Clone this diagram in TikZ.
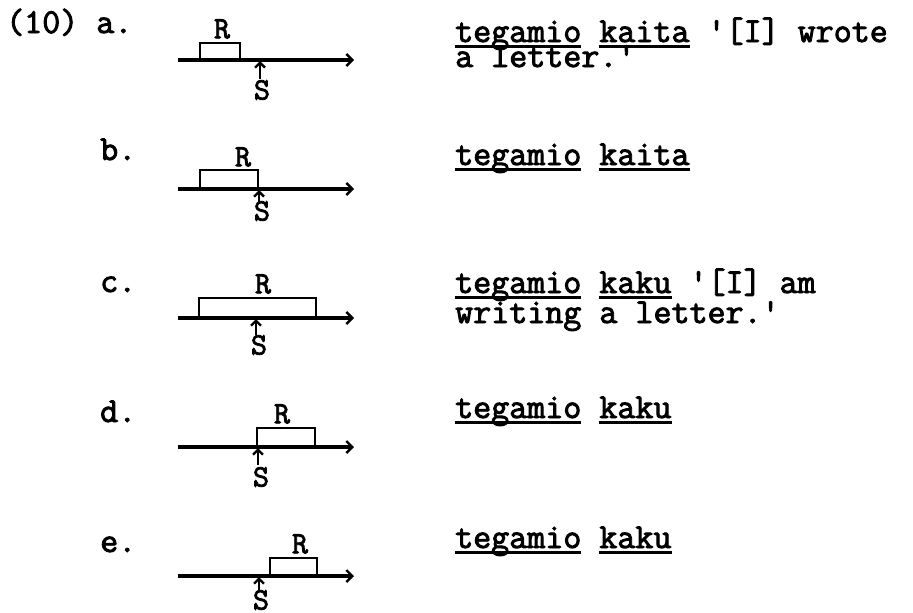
\documentclass[tikz,border=0pt]{standalone}
\usepackage{fontspec}
\newfontfamily\twfont{Latin Modern Mono}[FakeBold=2.6]
\usetikzlibrary{arrows.meta}
\newcommand\ulw[1]{\setbox0\hbox{#1}\rlap{\rule[-6pt]{\wd0}{2.6pt}}\box0\relax}
\begin{document}
\begin{tikzpicture}[x=1pt,y=-1pt,
  every node/.style={inner sep=0pt},
  tw/.style={font=\twfont\fontsize{35}{30}\selectfont},
  lab/.style={tw,anchor=base west},
  rs/.style={font=\twfont\fontsize{31}{30}\selectfont,anchor=center},
  timeline/.style={line width=3.4pt,-{Straight Barb[length=6pt,width=12pt,line width=2.4pt]}},
  rbox/.style={line width=2.8pt},
  sarrow/.style={line width=2.6pt,-{Straight Barb[length=5pt,width=10pt,line width=2.4pt]}}]
\useasboundingbox (0,0) rectangle (913,613);

% ---- row a
\node[lab] (la) at (6,33) {(10) a.};
\coordinate (a0) at (178,60); \coordinate (a1) at (354,60);
\draw[timeline] (a0) -- (a1);
\draw[rbox] (200,60) -- (200,43) -- (240,43) -- (240,60);
\node[rs] (Ra) at (222,29) {R};
\node[rs] (Sa) at (262,90) {S};
\coordinate (sa0) at (260,79); \coordinate (sa1) at (260,61);
\draw[sarrow] (sa0) -- (sa1);
\node[lab] (ta1) at (455,42) {\ulw{tegamio} \ulw{kaita} \char39[I] wrote};
\node[lab] (ta2) at (455,67) {a letter.\char39};

% ---- row b
\node[lab] (lb) at (100,160) {b.};
\coordinate (b0) at (178,189); \coordinate (b1) at (354,189);
\draw[timeline] (b0) -- (b1);
\draw[rbox] (200,189) -- (200,170) -- (258,170) -- (258,189);
\node[rs] (Rb) at (243,157) {R};
\node[rs] (Sb) at (262,211) {S};
\coordinate (sb0) at (259,204); \coordinate (sb1) at (259,190);
\draw[sarrow] (sb0) -- (sb1);
\node[lab] (tb1) at (455,165) {\ulw{tegamio} \ulw{kaita}};

% ---- row c
\node[lab] (lc) at (100,292) {c.};
\coordinate (c0) at (178,318); \coordinate (c1) at (354,318);
\draw[timeline] (c0) -- (c1);
\draw[rbox] (199,318) -- (199,298) -- (316,298) -- (316,318);
\node[rs] (Rc) at (263,284) {R};
\node[rs] (Sc) at (259,345) {S};
\coordinate (sc0) at (256,335); \coordinate (sc1) at (256,319);
\draw[sarrow] (sc0) -- (sc1);
\node[lab] (tc1) at (455,293) {\ulw{tegamio} \ulw{kaku} \char39[I] am};
\node[lab] (tc2) at (455,323) {writing a letter.\char39};

% ---- row d
\node[lab] (ld) at (100,422) {d.};
\coordinate (d0) at (178,447); \coordinate (d1) at (354,447);
\draw[timeline] (d0) -- (d1);
\draw[rbox] (257,447) -- (257,428) -- (315,428) -- (315,447);
\node[rs] (Rd) at (282,414) {R};
\node[rs] (Sd) at (261,477) {S};
\coordinate (sd0) at (258,465); \coordinate (sd1) at (258,448);
\draw[sarrow] (sd0) -- (sd1);
\node[lab] (td1) at (455,418) {\ulw{tegamio} \ulw{kaku}};

% ---- row e
\node[lab] (le) at (100,552) {e.};
\coordinate (e0) at (178,576); \coordinate (e1) at (354,576);
\draw[timeline] (e0) -- (e1);
\draw[rbox] (270,576) -- (270,558) -- (317,558) -- (317,576);
\node[rs] (Re) at (300,544) {R};
\node[rs] (Se) at (261,600) {S};
\coordinate (se0) at (259,590); \coordinate (se1) at (259,577);
\draw[sarrow] (se0) -- (se1);
\node[lab] (te1) at (455,548) {\ulw{tegamio} \ulw{kaku}};
\end{tikzpicture}
\end{document}
